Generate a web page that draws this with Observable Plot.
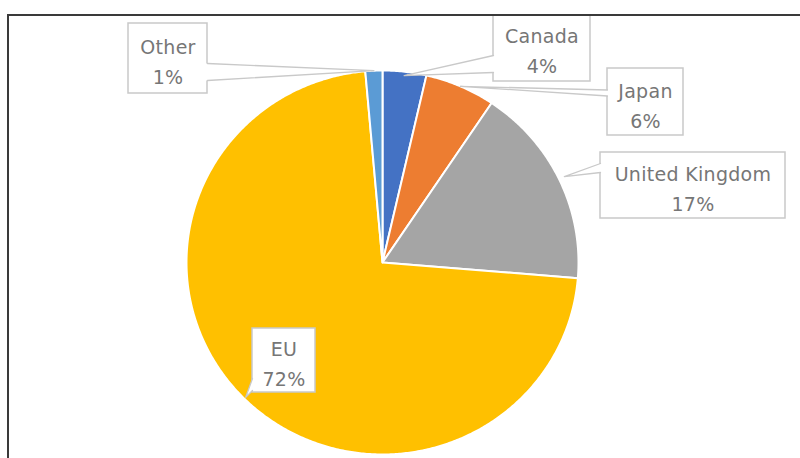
<!DOCTYPE html>
<html>
<head>
<meta charset="utf-8">
<script src="https://cdn.jsdelivr.net/npm/d3@7"></script>
<script src="https://cdn.jsdelivr.net/npm/@observablehq/plot@0.6"></script>
<style>
  html, body { margin: 0; padding: 0; background: #ffffff; }
  #frame {
    position: absolute; left: 7px; top: 14px;
    width: 793px; height: 444px;
    border-top: 2px solid #3a3a3a; border-left: 2px solid #3a3a3a;
    overflow: hidden; background: #ffffff;
  }
</style>
</head>
<body>
<div id="frame"></div>
<script>
// ---- data ----
const countries = ["Canada", "Japan", "United Kingdom", "EU", "Other"];
const shares = [3.6, 5.8, 16.9, 72.3, 1.4];
const colors = ["#4472C4", "#ED7D31", "#A5A5A5", "#FFC000", "#5B9BD5"];

// ---- layout (pixels / radius units) ----
const RX_PX = 196, RY_PX = 192; // pie radius in px (horizontal, vertical)
const SVG_W = 793, SVG_H = 444;
const CX_PX = 373, CY_PX = 246; // pie centre inside the svg
// label boxes: centre in radius units relative to pie centre, size in px,
// pointer base points as px offsets from box centre, tip radius
const labelLayout = {
  "Canada":         {bx: 159.5 / 196,  by: 215 / 192,  w: 97,  h: 68, base: [[-48.5, 8], [-48.5, 25]], tipR: 0.98},
  "Japan":          {bx: 263 / 196,    by: 160.5 / 192, w: 76, h: 67, base: [[-38, -12], [-38, -6]],   tipR: 1.0},
  "United Kingdom": {bx: 310.5 / 196,  by: 77 / 192,   w: 185, h: 66, base: [[-92.5, -22], [-92.5, -13]], tipR: 1.03},
  "EU":             {bx: -98.5 / 196,  by: -98 / 192,  w: 63,  h: 64, base: [[-31.5, 18], [-31.5, 30]], tipR: 0.99},
  "Other":          {bx: -214.5 / 196, by: 204 / 192,  w: 79,  h: 70, base: [[39.5, 5], [39.5, 22]],   tipR: 1.0}
};

const total = d3.sum(shares);
const TAU = Math.PI * 2;

// slice polygons in radius units
let cum = 0;
const slicePts = [];
const labels = [];
countries.forEach((name, i) => {
  const a0 = cum / total * TAU;
  cum += shares[i];
  const a1 = cum / total * TAU;
  const n = Math.max(2, Math.ceil((a1 - a0) / (Math.PI / 360)));
  slicePts.push({name, x: 0, y: 0});
  for (let k = 0; k <= n; k++) {
    const a = a0 + (a1 - a0) * k / n;
    slicePts.push({name, x: Math.sin(a), y: Math.cos(a)});
  }
  const L = labelLayout[name];
  const mid = (a0 + a1) / 2;
  labels.push({
    name,
    text: `${name}\n${Math.round(shares[i] / total * 100)}%`,
    ...L,
    tipX: L.tipR * Math.sin(mid),
    tipY: L.tipR * Math.cos(mid)
  });
});

const px = (d, dx) => d.bx + dx / RX_PX;
const py = (d, dy) => d.by - dy / RY_PX;

const wedgeFill = [];
const wedgeLine = [];
labels.forEach(d => {
  const [b1, b2] = d.base;
  const inward = b1[0] > 0 ? -3 : 3;
  wedgeFill.push(
    {name: d.name, x: px(d, b1[0] + inward), y: py(d, b1[1])},
    {name: d.name, x: px(d, b1[0]), y: py(d, b1[1])},
    {name: d.name, x: d.tipX, y: d.tipY},
    {name: d.name, x: px(d, b2[0]), y: py(d, b2[1])},
    {name: d.name, x: px(d, b2[0] + inward), y: py(d, b2[1])}
  );
  wedgeLine.push(
    {name: d.name, x: px(d, b1[0]), y: py(d, b1[1])},
    {name: d.name, x: d.tipX, y: d.tipY},
    {name: d.name, x: px(d, b2[0]), y: py(d, b2[1])}
  );
});

const chart = Plot.plot({
  width: SVG_W,
  height: SVG_H,
  margin: 0,
  style: {background: "#ffffff", overflow: "visible"},
  x: {domain: [-CX_PX / RX_PX, (SVG_W - CX_PX) / RX_PX], axis: null},
  y: {domain: [-(SVG_H - CY_PX) / RY_PX, CY_PX / RY_PX], axis: null},
  color: {type: "ordinal", domain: countries, range: colors, legend: false},
  marks: [
    Plot.line(slicePts, {x: "x", y: "y", z: "name", fill: "name", stroke: "#ffffff",
      strokeWidth: 2, strokeLinejoin: "round", curve: "linear-closed"}),
    Plot.rect(labels, {
      x1: d => px(d, -d.w / 2), x2: d => px(d, d.w / 2),
      y1: d => py(d, d.h / 2), y2: d => py(d, -d.h / 2),
      fill: "#ffffff", stroke: "#c9c9c9", strokeWidth: 1.5
    }),
    Plot.line(wedgeFill, {x: "x", y: "y", z: "name", fill: "#ffffff", stroke: "none", curve: "linear-closed"}),
    Plot.line(wedgeLine, {x: "x", y: "y", z: "name", stroke: "#c9c9c9", strokeWidth: 1.3}),
    Plot.text(labels, {
      x: "bx", y: "by", text: "text", dy: 1,
      fontSize: 19, fontFamily: "DejaVu Sans", fill: "#767676",
      lineHeight: 1.58, textAnchor: "middle", lineAnchor: "middle"
    })
  ]
});
chart.querySelectorAll("text").forEach(t => t.setAttribute("letter-spacing", "0.3"));
document.getElementById("frame").appendChild(chart);
</script>
</body>
</html>
